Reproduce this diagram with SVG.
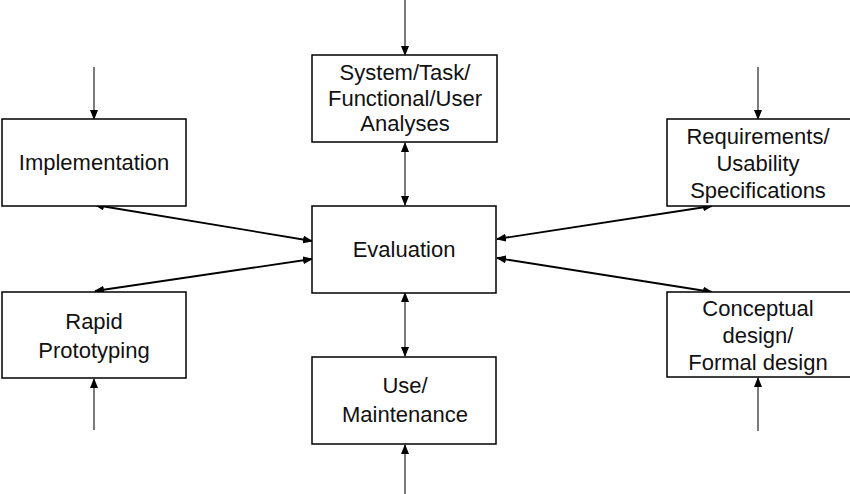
<svg xmlns="http://www.w3.org/2000/svg" width="850" height="494" viewBox="0 0 850 494">
<style>
.box{fill:#fff;stroke:#000;stroke-width:1.5}
.t{font-family:"Liberation Sans",Arial,sans-serif;font-size:22px;fill:#111;text-anchor:middle}
.v{stroke:#222;stroke-width:1.2;fill:none}
.d{stroke:#000;stroke-width:1.8;fill:none}
</style>
<defs>
<marker id="ah" markerUnits="userSpaceOnUse" markerWidth="10" markerHeight="8" refX="9" refY="4" orient="auto-start-reverse" viewBox="0 0 10 8">
<path d="M0,0 L10,4 L0,8 z" fill="#000"/>
</marker>
</defs>
<rect width="850" height="494" fill="#fff"/>
<g id="connectors">
<line class="v" x1="405" y1="0" x2="405" y2="55" marker-end="url(#ah)"/>
<line class="v" x1="405" y1="143" x2="405" y2="205" marker-start="url(#ah)" marker-end="url(#ah)"/>
<line class="v" x1="405" y1="293" x2="405" y2="356" marker-start="url(#ah)" marker-end="url(#ah)"/>
<line class="v" x1="405" y1="494" x2="405" y2="445" marker-end="url(#ah)"/>
<line class="v" x1="94" y1="67" x2="94" y2="119" marker-end="url(#ah)"/>
<line class="v" x1="94" y1="430" x2="94" y2="379" marker-end="url(#ah)"/>
<line class="v" x1="758" y1="67" x2="758" y2="119" marker-end="url(#ah)"/>
<line class="v" x1="758" y1="431" x2="758" y2="378" marker-end="url(#ah)"/>
<line class="d" x1="95" y1="205" x2="312" y2="241" marker-start="url(#ah)" marker-end="url(#ah)"/>
<line class="d" x1="95" y1="291" x2="312" y2="259" marker-start="url(#ah)" marker-end="url(#ah)"/>
<line class="d" x1="712" y1="206" x2="497" y2="239" marker-start="url(#ah)" marker-end="url(#ah)"/>
<line class="d" x1="712" y1="292" x2="497" y2="258" marker-start="url(#ah)" marker-end="url(#ah)"/>
</g>
<g id="implementation">
<rect class="box" x="2" y="119" width="184" height="87"/>
<text class="t" x="94" y="170">Implementation</text>
</g>
<g id="analyses">
<rect class="box" x="312" y="55" width="185" height="87"/>
<text class="t" x="405" y="80">System/Task/</text>
<text class="t" x="405" y="105.5">Functional/User</text>
<text class="t" x="405" y="131">Analyses</text>
</g>
<g id="requirements">
<rect class="box" x="667" y="119" width="200" height="87"/>
<text class="t" x="758" y="144">Requirements/</text>
<text class="t" x="758" y="171">Usability</text>
<text class="t" x="758" y="198">Specifications</text>
</g>
<g id="evaluation">
<rect class="box" x="312" y="206" width="184" height="87"/>
<text class="t" x="404" y="257">Evaluation</text>
</g>
<g id="rapid">
<rect class="box" x="2" y="292" width="184" height="86"/>
<text class="t" x="94" y="329">Rapid</text>
<text class="t" x="94" y="358">Prototyping</text>
</g>
<g id="conceptual">
<rect class="box" x="667" y="292" width="200" height="85"/>
<text class="t" x="758" y="316">Conceptual</text>
<text class="t" x="758" y="343">design/</text>
<text class="t" x="758" y="370">Formal design</text>
</g>
<g id="use">
<rect class="box" x="312" y="357" width="184" height="87"/>
<text class="t" x="405" y="393">Use/</text>
<text class="t" x="405" y="422">Maintenance</text>
</g>
</svg>
